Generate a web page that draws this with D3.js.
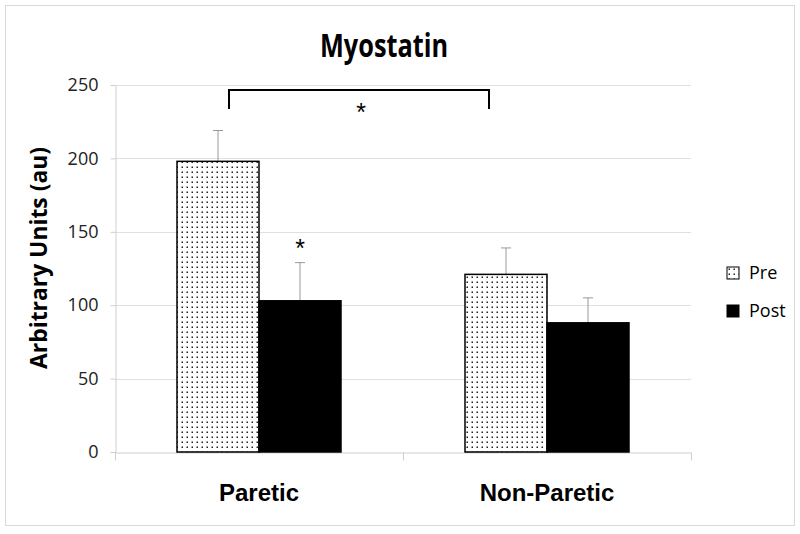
<!DOCTYPE html>
<html>
<head>
<meta charset="utf-8">
<script src="https://cdn.jsdelivr.net/npm/d3@7"></script>
<style>
body { margin: 0; background: #fff; }
</style>
</head>
<body>
<script>
var groups = ["Paretic", "Non-Paretic"];
var series = ["Pre", "Post"];
var preValues = [198, 121];
var postValues = [103, 88];
var preErrors = [21, 18];
var postErrors = [26, 17];
var yTicks = [0, 50, 100, 150, 200, 250];

var w = 800, h = 534;
var svg = d3.select("body").append("svg")
	.attr("width", w)
	.attr("height", h);

// dotted fill for Pre bars
var defs = svg.append("defs");
var pat = defs.append("pattern")
	.attr("id", "dots")
	.attr("patternUnits", "userSpaceOnUse")
	.attr("width", 5)
	.attr("height", 5);
pat.append("rect").attr("width", 5).attr("height", 5).attr("fill", "#fff");
pat.append("rect").attr("x", 1.5).attr("y", 1.5).attr("width", 1.5).attr("height", 1.5).attr("fill", "#222");

svg.append("rect")
	.attr("x", 5.5).attr("y", 5.5)
	.attr("width", 789).attr("height", 520)
	.attr("fill", "none")
	.attr("stroke", "#d9d9d9");

var x0 = d3.scaleBand().domain(groups).range([115, 691]);
var y = d3.scaleLinear().domain([0, 250]).range([452, 85]);
var barW = 82;

// gridlines
svg.append("g").selectAll("line")
	.data(yTicks.slice(1))
	.enter().append("line")
	.attr("x1", 115).attr("x2", 691)
	.attr("y1", function(d){ return Math.round(y(d)) + 0.5; })
	.attr("y2", function(d){ return Math.round(y(d)) + 0.5; })
	.attr("stroke", "#e0e0e0");

// y axis
var ya = svg.append("g")
	.attr("transform", "translate(115.5,0)")
	.call(d3.axisLeft(y).tickValues(yTicks).tickSize(5).tickPadding(12));
ya.select(".domain").attr("stroke", "#cfcfcf");
ya.selectAll(".tick line").attr("stroke", "#cfcfcf");
ya.selectAll("text")
	.attr("font-family", "Open Sans, sans-serif")
	.attr("font-size", 18)
	.attr("fill", "#222");

// x axis
var xa = svg.append("g")
	.attr("transform", "translate(0," + (Math.round(y(0)) + 0.5) + ")")
	.call(d3.axisBottom(x0).tickSize(0).tickPadding(31));
xa.select(".domain").attr("stroke", "#cfcfcf");
xa.selectAll("text")
	.attr("font-family", "Liberation Sans, Arial, sans-serif")
	.attr("font-weight", "bold")
	.attr("font-size", 24)
	.attr("fill", "#000");
// band separator ticks
xa.selectAll(".sep")
	.data([115, 403, 691])
	.enter().append("line")
	.attr("x1", function(d){ return d + 0.5; })
	.attr("x2", function(d){ return d + 0.5; })
	.attr("y1", 0).attr("y2", 8)
	.attr("stroke", "#cfcfcf");

var cx = function(g){ return x0(g) + x0.bandwidth() / 2; };

var bars = [];
groups.forEach(function(g, i){
	bars.push({g: g, s: "Pre", v: preValues[i], e: preErrors[i], x: cx(g) - barW});
	bars.push({g: g, s: "Post", v: postValues[i], e: postErrors[i], x: cx(g)});
});

// error bars (drawn behind bars)
var eb = svg.append("g").selectAll("g").data(bars).enter().append("g");
eb.append("line")
	.attr("x1", function(d){ return d.x + barW / 2; })
	.attr("x2", function(d){ return d.x + barW / 2; })
	.attr("y1", function(d){ return y(d.v); })
	.attr("y2", function(d){ return y(d.v + d.e); })
	.attr("stroke", "#999").attr("stroke-width", 1);
eb.append("line")
	.attr("x1", function(d){ return d.x + barW / 2 - 5; })
	.attr("x2", function(d){ return d.x + barW / 2 + 5; })
	.attr("y1", function(d){ return y(d.v + d.e); })
	.attr("y2", function(d){ return y(d.v + d.e); })
	.attr("stroke", "#999").attr("stroke-width", 1);

svg.append("g").selectAll("rect").data(bars).enter().append("rect")
	.attr("x", function(d){ return d.x; })
	.attr("y", function(d){ return y(d.v); })
	.attr("width", barW)
	.attr("height", function(d){ return y(0) - y(d.v); })
	.attr("fill", function(d){ return d.s == "Pre" ? "url(#dots)" : "#000"; })
	.attr("stroke", "#000")
	.attr("stroke-width", 1.5);

// significance bracket
var bx1 = cx("Paretic") - 30, bx2 = cx("Non-Paretic") - 58;
svg.append("path")
	.attr("d", "M" + bx1 + "," + 109 + "V" + 90 + "H" + bx2 + "V" + 109)
	.attr("fill", "none")
	.attr("stroke", "#000")
	.attr("stroke-width", 2);
svg.append("text")
	.attr("x", 361).attr("y", 121)
	.attr("text-anchor", "middle")
	.attr("font-family", "Liberation Sans, Arial, sans-serif")
	.attr("font-size", 25)
	.text("*");
svg.append("text")
	.attr("x", cx("Paretic") + barW / 2).attr("y", y(postValues[0] + postErrors[0]) - 6)
	.attr("text-anchor", "middle")
	.attr("font-family", "Liberation Sans, Arial, sans-serif")
	.attr("font-size", 25)
	.text("*");

// title
svg.append("text")
	.attr("x", 320).attr("y", 57)
	.attr("font-family", "Open Sans, sans-serif")
	.attr("font-weight", "bold")
	.attr("font-size", 32)
	.attr("textLength", 128)
	.attr("lengthAdjust", "spacingAndGlyphs")
	.text("Myostatin");

// y label
svg.append("text")
	.attr("transform", "translate(47,258) rotate(-90)")
	.attr("text-anchor", "middle")
	.attr("font-family", "Open Sans, sans-serif")
	.attr("font-weight", "bold")
	.attr("font-size", 23)
	.attr("textLength", 222)
	.attr("lengthAdjust", "spacingAndGlyphs")
	.text("Arbitrary Units (au)");

// legend
var lg = svg.append("g").selectAll("g").data(series).enter().append("g")
	.attr("transform", function(d, i){ return "translate(727," + (267 + i * 38) + ")"; });
lg.append("rect")
	.attr("width", 12).attr("height", 12)
	.attr("fill", function(d){ return d == "Pre" ? "url(#dots)" : "#000"; })
	.attr("stroke", "#000");
lg.append("text")
	.attr("x", 22).attr("y", 12)
	.attr("font-family", "Open Sans, sans-serif")
	.attr("font-size", 18)
	.text(function(d){ return d; });
</script>
</body>
</html>
